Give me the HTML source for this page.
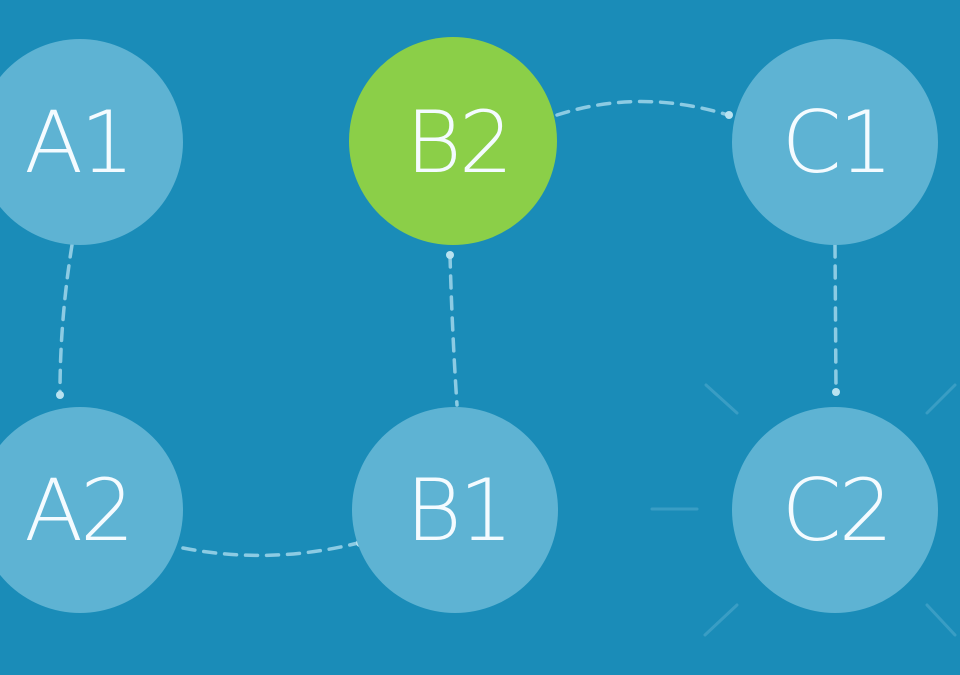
<!DOCTYPE html>
<html><head><style>
html,body{margin:0;padding:0;background:#1a8cb8;}
svg{display:block}
text{font-family:"DejaVu Sans ExtraLight","DejaVu Sans","Liberation Sans",sans-serif;font-weight:200;font-size:86px;fill:#f4fbff;text-anchor:middle;letter-spacing:-3px}
</style></head><body>
<svg width="960" height="675" viewBox="0 0 960 675" xmlns="http://www.w3.org/2000/svg">
<rect width="960" height="675" fill="#1a8cb8"/>
<g stroke="#5fb3d3" stroke-width="3" stroke-linecap="round" opacity="0.45">
<line x1="706" y1="385" x2="737" y2="413"/>
<line x1="955" y1="385" x2="927" y2="413"/>
<line x1="652" y1="509" x2="697" y2="509"/>
<line x1="705" y1="635" x2="737" y2="605"/>
<line x1="955" y1="635" x2="927" y2="605"/>
</g>
<g fill="none" stroke="#8ccbe3" stroke-width="3.5" stroke-dasharray="12 9" stroke-linecap="round">
<path d="M72 245 Q60 320 60 393"/>
<path d="M450 255 Q452 330 457 405"/>
<path d="M835 245 L836 390"/>
<path d="M183 548 Q270 565 358 543"/>
<path d="M557 115 Q640 88 728 115"/>
</g>
<g fill="#b8e2f0">
<circle cx="60" cy="395" r="4"/>
<circle cx="450" cy="255" r="4"/>
<circle cx="836" cy="392" r="4"/>
<circle cx="360" cy="543" r="4"/>
<circle cx="729" cy="115" r="4"/>
</g>
<g fill="#5eb3d3">
<circle cx="80" cy="142" r="103"/>
<circle cx="835" cy="142" r="103"/>
<circle cx="80" cy="510" r="103"/>
<circle cx="455" cy="510" r="103"/>
<circle cx="835" cy="510" r="103"/>
</g>
<circle cx="453" cy="141" r="104" fill="#8bcf48"/>
<text x="78" y="172">A1</text>
<text x="458" y="172">B2</text>
<text x="836" y="172">C1</text>
<text x="78" y="540">A2</text>
<text x="458" y="540">B1</text>
<text x="836" y="540">C2</text>
</svg>
</body></html>
